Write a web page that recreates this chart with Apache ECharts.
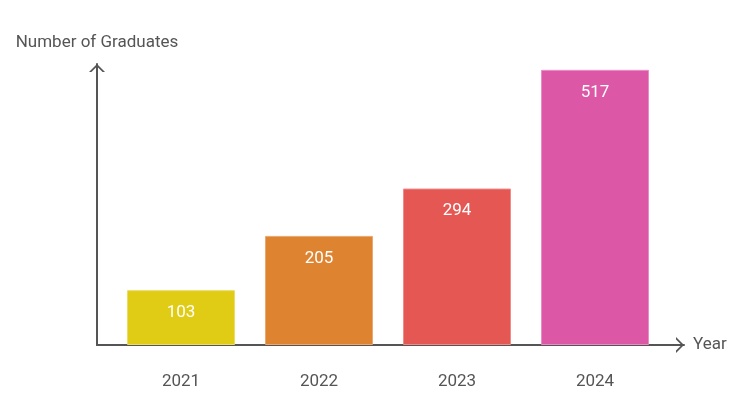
<!DOCTYPE html>
<html>
<head>
<meta charset="utf-8">
<script src="https://cdn.jsdelivr.net/npm/echarts@6/dist/echarts.min.js"></script>
<style>
  html, body { margin: 0; padding: 0; background: #fff; }
  #chart { width: 755px; height: 401px; }
</style>
</head>
<body>
<div id="chart"></div>
<script>
var years = ["2021", "2022", "2023", "2024"];
var graduates = [103, 205, 294, 517];
var barColors = ["#e0cb15", "#de8431", "#e55753", "#dc57a5"];
var borderColors = ["#ecdc62", "#eaa870", "#ef8c89", "#ec8cc6"];

// open chevron arrow, apex at the centre of the symbol box
var chevron = "path://M10,0L10.01,0L10,0.01Z M10,10L20,20L17,20L10,13L3,20L0,20Z";
var axisColor = "#555";
var textColor = "#555";

var barData = [];
for (var i = 0; i < graduates.length; i++) {
  barData.push({
    value: graduates[i],
    itemStyle: { color: barColors[i], borderColor: borderColors[i], borderWidth: 1 }
  });
}

var chart = echarts.init(document.getElementById("chart"));
chart.setOption({
  animation: false,
  textStyle: { fontFamily: "Roboto" },
  grid: [
    { left: 112, right: 91, top: 64, bottom: 56 },
    { left: 97, right: 71, top: 64, bottom: 56 }
  ],
  xAxis: [
    {
      type: "category",
      gridIndex: 0,
      data: years,
      axisLine: { show: false },
      axisTick: { show: false },
      axisLabel: { color: textColor, fontSize: 17, margin: 28 }
    },
    {
      type: "value",
      gridIndex: 1,
      min: 0,
      max: 1,
      name: "Year",
      nameGap: 9,
      nameTextStyle: { color: textColor, fontSize: 17, padding: [4, 0, 0, 0] },
      axisLine: {
        show: true,
        symbol: ["none", chevron],
        symbolSize: [16, 16],
        lineStyle: { color: axisColor, width: 2 }
      },
      axisTick: { show: false },
      axisLabel: { show: false },
      splitLine: { show: false }
    }
  ],
  yAxis: [
    {
      type: "value",
      gridIndex: 0,
      min: 0,
      max: 528,
      show: false
    },
    {
      type: "value",
      gridIndex: 1,
      min: 0,
      max: 1,
      name: "Number of Graduates",
      nameGap: 13,
      nameTextStyle: { color: textColor, fontSize: 17 },
      axisLine: {
        show: true,
        symbol: ["none", chevron],
        symbolSize: [16, 16],
        lineStyle: { color: axisColor, width: 2 }
      },
      axisTick: { show: false },
      axisLabel: { show: false },
      splitLine: { show: false }
    }
  ],
  series: [
    {
      type: "bar",
      xAxisIndex: 0,
      yAxisIndex: 0,
      barWidth: 108,
      data: barData,
      label: {
        show: true,
        position: "insideTop",
        distance: 14,
        color: "#fff",
        fontSize: 17
      }
    }
  ]
});
</script>
</body>
</html>
